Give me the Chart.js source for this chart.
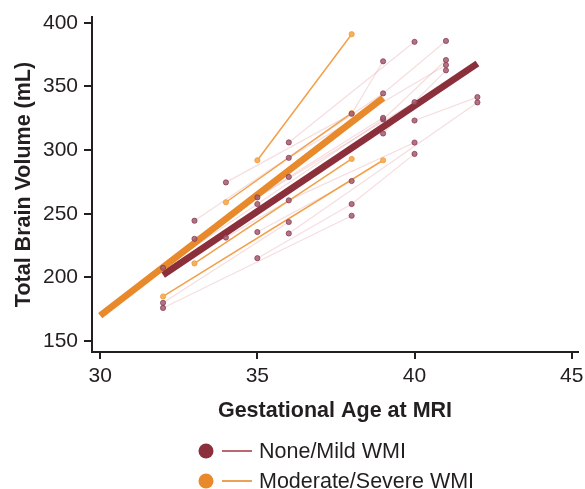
<!DOCTYPE html>
<html>
<head>
<meta charset="utf-8">
<script src="https://cdn.jsdelivr.net/npm/chart.js@4/dist/chart.umd.min.js"></script>
<style>
  html, body { margin: 0; padding: 0; background: #fff; }
  canvas { display: block; }
</style>
</head>
<body>
<canvas id="chart" width="585" height="489"></canvas>
<script>
'use strict';

// one inner array per infant: gestational age (weeks) at each MRI
const mildGA = [
    [36, 40], [32, 36], [32, 38], [32, 35, 39, 41], [33, 39, 41],
    [33, 36, 39], [34, 38, 39], [34, 36, 40], [35, 40], [35, 38],
    [35, 38, 40], [36, 41], [36, 42], [40, 42], [39, 41]
];
// matching total brain volume (mL)
const mildTBV = [
    [306, 385], [180, 243.5], [176, 248.4], [207.5, 257.6, 324, 370.7], [244.5, 344.5, 385.7],
    [230.3, 278.9, 325.3], [274.6, 328.5, 369.7], [231.3, 260.5, 305.9], [262.8, 337.6], [235.6, 275.7],
    [215.1, 257.6, 297], [293.9, 366.8], [234.5, 337.4], [323.2, 341.6], [313, 362.6]
];

const severeGA = [[35, 38], [34, 38], [33, 38], [32, 39]];
const severeTBV = [[292, 391], [259, 329], [211, 293], [185, 292]];

// group regression lines
const mildFitGA = [32, 42];
const mildFitTBV = [202, 368];
const severeFitGA = [30, 39];
const severeFitTBV = [170, 341];

const xTicks = [30, 35, 40, 45];
const yTicks = [150, 200, 250, 300, 350, 400];
const legendLabels = ['None/Mild WMI', 'Moderate/Severe WMI'];

const colors = {
    text: '#231f20',
    axis: '#231f20',
    mild: '#8b2f3b',
    mildThin: 'rgba(232, 165, 172, 0.38)',
    mildDot: 'rgba(165, 92, 112, 0.85)',
    mildDotEdge: 'rgba(130, 55, 75, 0.9)',
    mildLegendLine: '#a8404c',
    severe: '#e8892b',
    severeThin: '#f2a04a',
    severeDot: '#f6b15e',
    severeDotEdge: '#ee9a3a'
};
const family = '"Liberation Sans", Arial, Helvetica, sans-serif';

const toPoints = (ga, tbv) => ga.map((g, i) => ({ x: g, y: tbv[i] }));

const subjectLines = (gaList, tbvList, color, width) => gaList.map((ga, i) => ({
    data: toPoints(ga, tbvList[i]),
    showLine: true,
    borderColor: color,
    borderWidth: width,
    pointRadius: 0
}));

const dots = (gaList, tbvList, fill, edge) => ({
    data: gaList.flatMap((ga, i) => toPoints(ga, tbvList[i])),
    showLine: false,
    pointRadius: 2.6,
    pointBackgroundColor: fill,
    pointBorderColor: edge,
    pointBorderWidth: 0.8
});

const fitLine = (ga, tbv, color) => ({
    data: toPoints(ga, tbv),
    showLine: true,
    borderColor: color,
    borderWidth: 6.8,
    borderCapStyle: 'butt',
    pointRadius: 0
});

// chart.js draws dataset 0 last, so the list runs from top layer to bottom layer
const datasets = [
    dots(mildGA, mildTBV, colors.mildDot, colors.mildDotEdge),
    dots(severeGA, severeTBV, colors.severeDot, colors.severeDotEdge),
    fitLine(severeFitGA, severeFitTBV, colors.severe),
    fitLine(mildFitGA, mildFitTBV, colors.mild),
    ...subjectLines(severeGA, severeTBV, colors.severeThin, 1.5),
    ...subjectLines(mildGA, mildTBV, colors.mildThin, 1.2)
];

// legend: dot + short line + label, two rows under the axis
const legendPlugin = {
    id: 'wmiLegend',
    afterDraw(chart) {
        const ctx = chart.ctx;
        const rows = [
            { label: legendLabels[0], dot: colors.mild, line: colors.mildLegendLine, y: 451 },
            { label: legendLabels[1], dot: colors.severe, line: colors.severe, y: 481 }
        ];
        ctx.save();
        rows.forEach(r => {
            ctx.beginPath();
            ctx.arc(206, r.y, 7.5, 0, Math.PI * 2);
            ctx.fillStyle = r.dot;
            ctx.fill();
            ctx.beginPath();
            ctx.moveTo(222, r.y);
            ctx.lineTo(252, r.y);
            ctx.strokeStyle = r.line;
            ctx.lineWidth = 1.6;
            ctx.stroke();
            ctx.fillStyle = colors.text;
            ctx.font = '21.5px ' + family;
            ctx.textBaseline = 'middle';
            ctx.textAlign = 'left';
            ctx.fillText(r.label, 259, r.y + 1);
        });
        ctx.restore();
    }
};

new Chart(document.getElementById('chart'), {
    type: 'scatter',
    data: { datasets },
    options: {
        responsive: false,
        animation: false,
        events: [],
        layout: { padding: { left: 0, right: 7, top: 17, bottom: 0 } },
        plugins: {
            legend: { display: false },
            tooltip: { enabled: false }
        },
        scales: {
            x: {
                type: 'linear',
                min: 29.74,
                max: 45.2,
                afterBuildTicks: s => { s.ticks = xTicks.map(v => ({ value: v })); },
                afterFit: s => { s.height = 137; s.paddingLeft = 0; s.paddingRight = 0; },
                grid: { drawOnChartArea: false, tickLength: 7, color: colors.axis, lineWidth: 2 },
                border: { color: colors.axis, width: 2 },
                ticks: { font: { family, size: 21 }, color: colors.text, padding: 5, maxRotation: 0, autoSkip: false },
                title: {
                    display: true,
                    text: 'Gestational Age at MRI',
                    font: { family, size: 21.5, weight: 'bold' },
                    color: colors.text,
                    padding: { bottom: 65 }
                }
            },
            y: {
                type: 'linear',
                min: 141.4,
                max: 404.5,
                afterBuildTicks: s => { s.ticks = yTicks.map(v => ({ value: v })); },
                afterFit: s => { s.width = 92; s.paddingTop = 0; s.paddingBottom = 0; },
                grid: { drawOnChartArea: false, tickLength: 8, color: colors.axis, lineWidth: 2 },
                border: { color: colors.axis, width: 2 },
                ticks: { font: { family, size: 21 }, color: colors.text, padding: 6, autoSkip: false },
                title: {
                    display: true,
                    text: 'Total Brain Volume (mL)',
                    font: { family, size: 21.5, weight: 'bold' },
                    color: colors.text,
                    padding: { top: 11 }
                }
            }
        }
    },
    plugins: [legendPlugin]
});
</script>
</body>
</html>
